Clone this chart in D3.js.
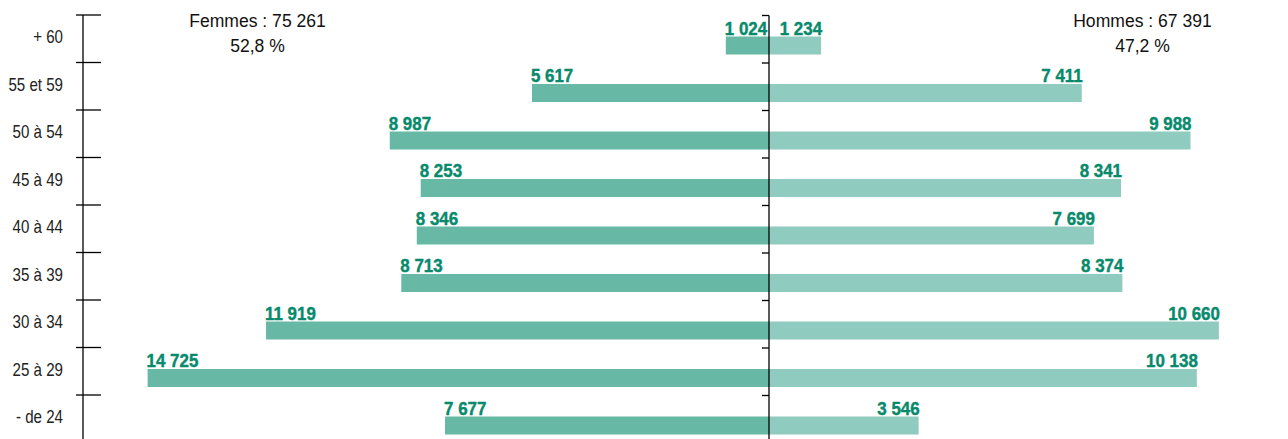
<!DOCTYPE html>
<html><head><meta charset="utf-8">
<script src="https://cdn.jsdelivr.net/npm/d3@7"></script>
<style>body{margin:0;background:#fff}svg{display:block}</style>
</head><body><svg id="c" width="1288" height="439"></svg>
<script>
const categories = ["+ 60","55 et 59","50 à 54","45 à 49","40 à 44","35 à 39","30 à 34","25 à 29","- de 24"];
const femmes = [1024,5617,8987,8253,8346,8713,11919,14725,7677];
const hommes = [1234,7411,9988,8341,7699,8374,10660,10138,3546];
const femmesTitle = ["Femmes : 75 261","52,8 %"];
const hommesTitle = ["Hommes : 67 391","47,2 %"];

const svg = d3.select("#c");
const cx = 769, k = 0.0422;
const font = "'Liberation Sans',Arial,sans-serif";
const y = d3.scaleBand().domain(categories).range([15, 15 + 47.5*categories.length]).padding(0);
const xF = d3.scaleLinear().domain([0, 15000]).range([cx, cx - 15000*k]);
const xH = d3.scaleLinear().domain([0, 11000]).range([cx, cx + 11000*k]);
const fmt = v => d3.format(",")(v).replace(/,/g, " ");
const barOff = 21.5, barH = 18;

// bars
const g = svg.append("g");
g.selectAll(".f").data(categories).join("rect")
  .attr("x", (c,i)=>xF(femmes[i])).attr("y", c=>y(c)+barOff)
  .attr("width", (c,i)=>xF(0)-xF(femmes[i])).attr("height", barH).attr("fill","#67b9a6");
g.selectAll(".h").data(categories).join("rect")
  .attr("x", xH(0)).attr("y", c=>y(c)+barOff)
  .attr("width", (c,i)=>xH(hommes[i])-xH(0)).attr("height", barH).attr("fill","#8fcbbe");

// value labels
const vl = (sel) => sel.attr("font-family",font).attr("font-weight","bold")
  .attr("font-size",18).attr("fill","#068a6b").attr("stroke","#068a6b").attr("stroke-width",0.4);
g.selectAll(".fl").data(categories).join("text")
  .attr("transform",(c,i)=>`translate(${xF(femmes[i])-1},${y(c)+barOff-2}) scale(0.94,1)`)
  .attr("text-anchor","start").call(vl).text((c,i)=>fmt(femmes[i]));
g.selectAll(".hl").data(categories).join("text")
  .attr("transform",(c,i)=>`translate(${xH(hommes[i])+1},${y(c)+barOff-2}) scale(0.94,1)`)
  .attr("text-anchor","end").call(vl).text((c,i)=>fmt(hommes[i]));

// left axis labels
svg.selectAll(".al").data(categories).join("text")
  .attr("transform", c=>`translate(63,${y(c)+y.bandwidth()/2+4.5}) scale(0.84,1)`)
  .attr("text-anchor","end").attr("font-family",font).attr("font-size",18).attr("fill","#222").text(c=>c);
const bounds = categories.map(c=>y(c));
svg.append("line").attr("x1",83).attr("x2",83).attr("y1",15).attr("y2",439).attr("stroke","#000").attr("stroke-width",1.3);
svg.selectAll(".lt").data(bounds).join("line")
  .attr("x1",76).attr("x2",101).attr("y1",d=>d).attr("y2",d=>d).attr("stroke","#000").attr("stroke-width",1.3);

// center axis
svg.append("line").attr("x1",cx).attr("x2",cx).attr("y1",15.5).attr("y2",439).attr("stroke","#000").attr("stroke-width",1.3);
svg.selectAll(".ct").data(bounds).join("line")
  .attr("x1",762).attr("x2",cx).attr("y1",d=>d+0.5).attr("y2",d=>d+0.5).attr("stroke","#000").attr("stroke-width",1.3);

// titles
const tt = (sel, x) => sel.attr("transform",(d,i)=>`translate(${x},${26.7+i*25}) scale(0.95,1)`)
  .attr("text-anchor","middle").attr("font-family",font).attr("font-size",18.5).attr("fill","#111").text(d=>d);
svg.selectAll(".tf").data(femmesTitle).join("text").call(tt, 257.5);
svg.selectAll(".th").data(hommesTitle).join("text").call(tt, 1142.5);
</script></body></html>
